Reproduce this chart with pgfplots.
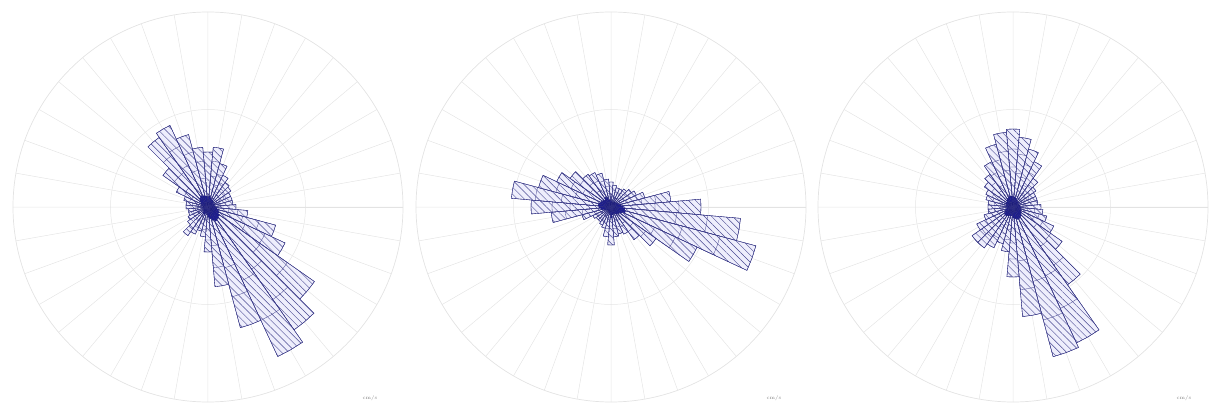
\documentclass[border=0pt]{standalone}
\usepackage{pgfplots}
\usepackage{pgfplotstable}
\pgfplotsset{compat=1.18}
\usepgfplotslibrary{polar}
\usetikzlibrary{patterns.meta}
\definecolor{navyB}{RGB}{28,28,118}
\definecolor{lavA}{RGB}{238,238,252}
\definecolor{coreC}{RGB}{30,30,150}

% dir = compass bin centre (deg), a,b,c,d = cumulative radii of the speed classes
\pgfplotstableread{
dir a b c d
0 10 27 41 55
10 11 31 46 60
20 9 23 34 45
30 8 17 27 35
40 8 15 22 30
50 7 14 21 28
60 6 13 18 25
70 7 12 19 25
80 6 13 18 25
90 7 15 21 28
100 9 21 30 40
110 11 36 53 70
120 12 41 63 85
130 14 64 97 130
140 15 76 113 150
150 16 81 125 165
160 14 63 93 125
170 12 39 61 80
180 10 23 33 45
190 8 14 23 30
200 6 13 18 25
210 8 15 23 30
220 8 17 27 35
230 6 13 18 25
240 6 11 16 22
250 5 10 15 20
260 5 11 15 20
270 6 11 17 22
280 5 12 16 22
290 7 12 19 25
300 8 18 26 35
310 10 27 42 55
320 12 42 63 85
330 13 46 67 90
340 12 38 57 75
350 11 29 46 60
}\roseA

\pgfplotstableread{
dir a b c d
0 6 13 18 25
10 6 11 17 22
20 5 10 15 20
30 5 10 16 20
40 6 11 17 22
50 6 13 18 25
60 7 14 21 28
70 8 17 27 35
80 10 31 45 60
90 12 44 68 90
100 14 66 97 130
110 15 74 113 150
120 12 48 71 95
130 10 27 42 55
140 9 20 30 40
150 8 15 22 30
160 7 14 21 28
170 8 15 22 30
180 11 19 29 38
190 8 15 22 30
200 6 11 16 22
210 5 10 15 20
220 5 9 14 18
230 4 9 13 18
240 5 10 15 20
250 7 15 23 30
260 10 29 46 60
270 12 41 59 80
280 13 50 76 100
290 12 37 57 75
300 11 31 44 60
310 10 25 38 50
320 9 20 30 40
330 11 19 29 38
340 10 17 27 35
350 7 14 21 28
}\roseB

\pgfplotstableread{
dir a b c d
0 11 40 58 78
10 10 34 53 70
20 9 31 44 60
30 8 24 38 50
40 7 17 27 35
50 7 14 21 28
60 6 13 18 25
70 6 12 19 25
80 7 13 18 25
90 7 14 21 28
100 8 15 22 30
110 8 17 27 35
120 9 23 33 45
130 10 29 46 60
140 12 48 71 95
150 13 76 112 150
160 13 77 117 155
170 12 54 83 110
180 11 36 52 70
190 9 23 33 45
200 9 19 28 38
210 10 23 34 45
220 11 25 37 50
230 11 26 38 50
240 9 20 30 40
250 8 15 22 30
260 6 13 19 25
270 6 12 18 25
280 7 13 19 25
290 7 14 21 28
300 8 15 23 30
310 8 17 26 35
320 9 20 30 40
330 10 24 38 50
340 11 33 49 65
350 11 37 56 75
}\roseC

\newcommand\rosewedge[2]{% #1 radius, #2 style
  \edef\tmp{\noexpand\addplot[#2]
    coordinates {(0,0) (\tA,#1) (\tM,#1) (\tB,#1)} -- cycle;}\tmp}

\pgfplotsset{
  outerw/.style={draw=navyB!90, line width=0.35pt, fill=lavA,
    postaction={pattern={Lines[angle=-45,distance=5pt,line width=0.45pt]}, pattern color=navyB!80}},
  midw/.style={draw=navyB!85, line width=0.3pt},
  corew/.style={draw=navyB, line width=0.3pt, fill=coreC},
}

\newcommand\drawrose[1]{%
  \pgfplotsforeachungrouped \i in {0,...,35}{%
    \pgfplotstablegetelem{\i}{dir}\of#1\let\dir\pgfplotsretval
    \pgfmathsetmacro\tA{90-\dir-5}%
    \pgfmathsetmacro\tM{90-\dir}%
    \pgfmathsetmacro\tB{90-\dir+5}%
    \pgfplotstablegetelem{\i}{d}\of#1\let\rd\pgfplotsretval
    \pgfplotstablegetelem{\i}{c}\of#1\let\rc\pgfplotsretval
    \pgfplotstablegetelem{\i}{b}\of#1\let\rb\pgfplotsretval
    \pgfplotstablegetelem{\i}{a}\of#1\let\ra\pgfplotsretval
    \rosewedge{\rd}{outerw}\rosewedge{\rc}{midw}\rosewedge{\rb}{midw}\rosewedge{\ra}{corew}%
  }}

\pgfplotsset{rosestyle/.style={
  scale only axis, width=390pt, height=390pt,
  ymin=0, ymax=195,
  xtick={0,10,...,350},
  ytick={97.5},
  xticklabels={}, yticklabels={},
  grid=major,
  major grid style={gray!20, line width=0.5pt},
  axis line style={gray!22, line width=0.7pt},
  tick style={draw=none},
  clip=false,
}}

\begin{document}
\begin{tikzpicture}
\path[use as bounding box] (0,0) rectangle (1216pt,410pt);
\begin{polaraxis}[rosestyle, at={(208pt,203pt)}, anchor=center]
\drawrose{\roseA}
\end{polaraxis}
\begin{polaraxis}[rosestyle, at={(611pt,203pt)}, anchor=center]
\drawrose{\roseB}
\end{polaraxis}
\begin{polaraxis}[rosestyle, at={(1013pt,203pt)}, anchor=center]
\drawrose{\roseC}
\end{polaraxis}
\node[font=\tiny, text=gray] at (370pt,12pt) {cm/s};
\node[font=\tiny, text=gray] at (774pt,12pt) {cm/s};
\node[font=\tiny, text=gray] at (1184pt,12pt) {cm/s};
\end{tikzpicture}
\end{document}
